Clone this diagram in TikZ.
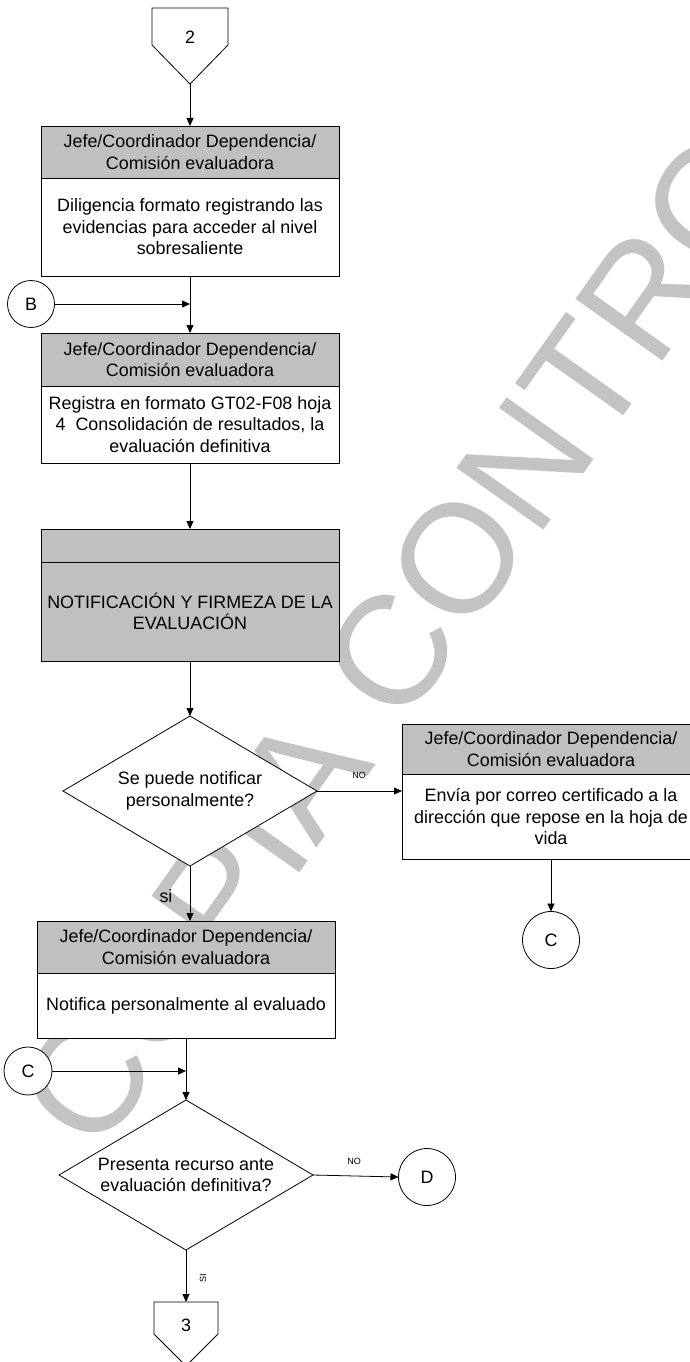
\documentclass[tikz,border=0pt]{standalone}
\usepackage{fontspec}
\setmainfont{Liberation Sans}
\usetikzlibrary{arrows.meta,shapes.geometric}
\definecolor{hdrgray}{HTML}{C0C0C0}
\definecolor{wmgray}{HTML}{C3C3C3}
\begin{document}
\begin{tikzpicture}[x=1pt,y=-1pt,
  txt/.style={font=\fontsize{17.9}{21.5}\selectfont, align=center},
  hdr/.style={draw=black, fill=hdrgray, line width=0.8pt, minimum width=298pt, inner sep=0pt, outer sep=0pt, txt},
  bodybox/.style={draw=black, fill=white, line width=0.8pt, minimum width=298pt, inner sep=0pt, outer sep=0pt, txt},
  conn/.style={draw=black, fill=white, circle, line width=0.8pt, inner sep=0pt, outer sep=0pt, txt},
  dec/.style={draw=black, fill=white, diamond, shape aspect=1.69, minimum width=254pt, minimum height=150pt, inner sep=0pt, outer sep=0pt, line width=0.8pt, txt},
  arr/.style={-{Triangle[length=8pt,width=7pt]}, line width=0.8pt},
  lbl/.style={font=\fontsize{9}{10}\selectfont, inner sep=0pt},
  offpage/.style={line width=0.8pt, fill=white}
]
\useasboundingbox (0,0) rectangle (690,1362);
\clip (0,0) rectangle (690,1362);
\fill[white] (0,0) rectangle (690,1362);

% watermark
\node[rotate=54.6, anchor=base west, inner sep=0pt, text=wmgray, font=\fontsize{155}{155}\selectfont] (wm) at (97,1158) {COPIA CONTROLADA};

% off-page connector 2
\draw[offpage] (152,8) -- (228,8) -- (228,45) -- (190,84) -- (152,45) -- cycle;
\node[txt] (p2) at (190,37) {2};
\coordinate (p2tip) at (190,84);

% box 1
\node[hdr, minimum height=52pt] (h1) at (190,152) {Jefe/Coordinador Dependencia/\\Comisión evaluadora};
\node[bodybox, minimum height=98pt, anchor=north] (b1) at (h1.south) {Diligencia formato registrando las\\evidencias para acceder al nivel\\sobresaliente};

% connector B
\node[conn, minimum size=47pt] (cB) at (31,304) {B};

% box 2
\node[hdr, minimum height=53pt] (h2) at (190,359.5) {Jefe/Coordinador Dependencia/\\Comisión evaluadora};
\node[bodybox, minimum height=77pt, anchor=north] (b2) at (h2.south) {Registra en formato GT02-F08 hoja\\4\ \ Consolidación de resultados, la\\evaluación definitiva};

% box 3
\node[hdr, minimum height=33pt] (h3) at (190,545.5) {};
\node[hdr, minimum height=99pt, anchor=north] (b3) at (h3.south) {NOTIFICACIÓN Y FIRMEZA DE LA\\EVALUACIÓN};

% decision 1
\node[dec] (d1) at (190,791) {Se puede notificar\\personalmente?};

% box 4 (right)
\node[hdr, minimum height=50pt] (h4) at (551,749) {Jefe/Coordinador Dependencia/\\Comisión evaluadora};
\node[bodybox, minimum height=85pt, anchor=north] (b4) at (h4.south) {Envía por correo certificado a la\\dirección que repose en la hoja de\\vida};

\node[conn, minimum size=57pt] (cR) at (551,940) {C};

% box 5
\node[hdr, minimum height=52pt] (h5) at (186,947) {Jefe/Coordinador Dependencia/\\Comisión evaluadora};
\node[bodybox, minimum height=65pt, anchor=north] (b5) at (h5.south) {Notifica personalmente al evaluado};

\node[conn, minimum size=48pt] (cL) at (28,1071) {C};

% decision 2
\node[dec] (d2) at (186,1175) {Presenta recurso ante\\evaluación definitiva?};

\node[conn, minimum size=57pt] (cD) at (427,1177) {D};

% off-page connector 3
\draw[offpage] (154,1302) -- (218,1302) -- (218,1334) -- (186,1366) -- (154,1334) -- cycle;
\node[txt] (p3) at (186,1325) {3};
\coordinate (p3top) at (186,1302);

% connectors
\draw[arr] (p2tip) -- (h1.north);
\draw[arr] (b1.south) -- (h2.north);
\draw[arr] (cB.east) -- (cB.east -| b1.south);
\draw[arr] (b2.south) -- (h3.north);
\draw[arr] (b3.south) -- (d1.north);
\draw[arr] (d1.east) -- (b4.west |- d1.east);
\node[lbl] (no1) at (359,775) {NO};
\draw[arr] (b4.south) -- (cR.north);
\draw[arr] (d1.south) -- (d1.south |- h5.north);
\node[txt] (si1) at (166,896) {si};
\draw[arr] (b5.south) -- (d2.north);
\draw[arr] (cL.east) -- (cL.east -| b5.south);
\draw[arr] (d2.east) -- (cD.west);
\node[lbl] (no2) at (354,1161) {NO};
\draw[arr] (d2.south) -- (p3top);
\node[lbl, rotate=90] (si2) at (203,1278) {SI};
\end{tikzpicture}
\end{document}
